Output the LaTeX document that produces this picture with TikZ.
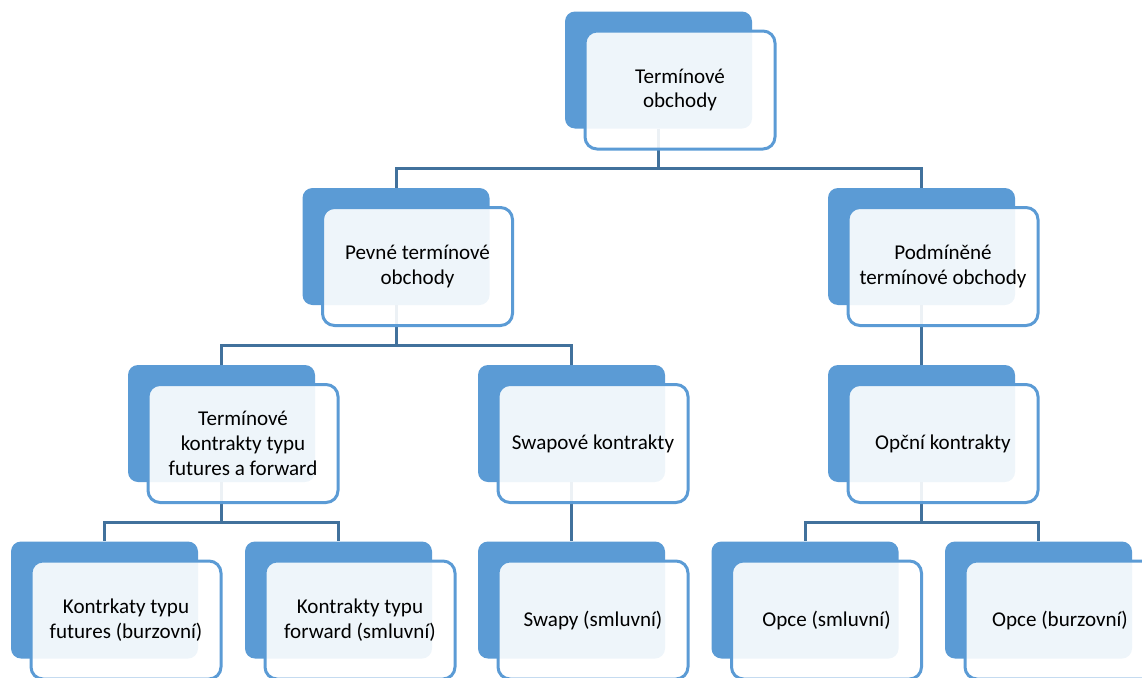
\documentclass[tikz,border=0pt]{standalone}
\usepackage{fontspec}
\setmainfont{Carlito}
\usetikzlibrary{backgrounds}
\definecolor{accent}{HTML}{5B9BD5}
\definecolor{linkblue}{HTML}{41719C}

\begin{document}
\begin{tikzpicture}[x=0.75pt,y=-0.75pt,
    backbox/.style={rectangle,rounded corners=7.5pt,fill=accent,
        minimum width=140.25pt,minimum height=87.75pt},
    frontbox/.style={rectangle,rounded corners=9pt,draw=accent,line width=2.25pt,
        fill=white,fill opacity=0.9,text opacity=1,inner sep=0pt,
        minimum width=142.5pt,minimum height=88.5pt,align=center,
        font=\fontsize{15.8}{18.5}\selectfont},
    link/.style={linkblue,line width=2.25pt}]

    \useasboundingbox (0,0) rectangle (1142,678);

    % top level
    \node[backbox] (root) at (658.5,70) {};
    \node[frontbox] (root-f) at ([shift={(21.5,20)}]root.center) {Termínové\\obchody};

    % second level
    \node[backbox] (pevne) at (396,246.5) {};
    \node[frontbox] (pevne-f) at ([shift={(21.5,20)}]pevne.center) {Pevné termínové\\obchody};

    \node[backbox] (podm) at (921.5,246.5) {};
    \node[frontbox] (podm-f) at ([shift={(21.5,20)}]podm.center) {Podmíněné\\termínové obchody};

    % third level
    \node[backbox] (termk) at (221.5,423.5) {};
    \node[frontbox] (termk-f) at ([shift={(21.5,20)}]termk.center) {Termínové\\kontrakty typu\\futures a forward};

    \node[backbox] (swapk) at (571.5,423.5) {};
    \node[frontbox] (swapk-f) at ([shift={(21.5,20)}]swapk.center) {Swapové kontrakty};

    \node[backbox] (opcni) at (921.5,423.5) {};
    \node[frontbox] (opcni-f) at ([shift={(21.5,20)}]opcni.center) {Opční kontrakty};

    % bottom level
    \node[backbox] (fut) at (104.5,600) {};
    \node[frontbox] (fut-f) at ([shift={(21.5,20)}]fut.center) {Kontrkaty typu\\futures (burzovní)};

    \node[backbox] (fwd) at (338.5,600) {};
    \node[frontbox] (fwd-f) at ([shift={(21.5,20)}]fwd.center) {Kontrakty typu\\forward (smluvní)};

    \node[backbox] (swapy) at (571.5,600) {};
    \node[frontbox] (swapy-f) at ([shift={(21.5,20)}]swapy.center) {Swapy (smluvní)};

    \node[backbox] (opces) at (805,600) {};
    \node[frontbox] (opces-f) at ([shift={(21.5,20)}]opces.center) {Opce (smluvní)};

    \node[backbox] (opceb) at (1038.5,600) {};
    \node[frontbox] (opceb-f) at ([shift={(21.5,20)}]opceb.center) {Opce (burzovní)};

    % connectors behind the boxes
    \begin{scope}[on background layer]
        \draw[link] (root.south) -- ++(0,40) -| (pevne.north);
        \draw[link] (root.south) -- ++(0,40) -| (podm.north);
        \draw[link] (pevne.south) -- ++(0,40) -| (termk.north);
        \draw[link] (pevne.south) -- ++(0,40) -| (swapk.north);
        \draw[link] (podm.south) -- (opcni.north);
        \draw[link] (termk.south) -- ++(0,40) -| (fut.north);
        \draw[link] (termk.south) -- ++(0,40) -| (fwd.north);
        \draw[link] (swapk.south) -- (swapy.north);
        \draw[link] (opcni.south) -- ++(0,40) -| (opces.north);
        \draw[link] (opcni.south) -- ++(0,40) -| (opceb.north);
    \end{scope}

\end{tikzpicture}
\end{document}
